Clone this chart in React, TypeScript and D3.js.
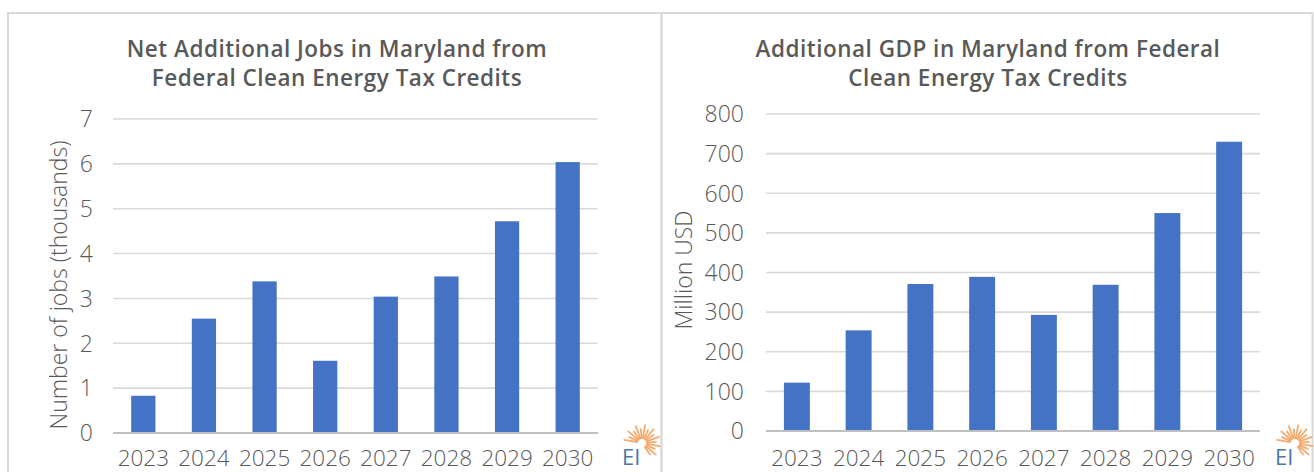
import React from 'react';
import * as d3 from 'd3';

const years = ['2023', '2024', '2025', '2026', '2027', '2028', '2029', '2030'];
const jobsValues = [0.83, 2.55, 3.38, 1.61, 3.04, 3.49, 4.72, 6.04];
const gdpValues = [122, 254, 371, 389, 293, 369, 550, 730];
const jobsTicks = [0, 1, 2, 3, 4, 5, 6, 7];
const gdpTicks = [0, 100, 200, 300, 400, 500, 600, 700, 800];

const FONT = "'Open Sans', 'Lato', sans-serif";
const TEXT = '#595959';
const GRID = '#d9d9d9';
const BAR = '#4472c4';

interface PanelProps {
  values: number[];
  ticks: number[];
  yMax: number;
  title: string[];
  titleX: number;
  yLabel: string;
  yLabelX: number;
  yLabelY: number;
  x0: number;
  x1: number;
  y0: number;
  y1: number;
  tickX: number;
  barPad: number;
}

function Logo({ x, y }: { x: number; y: number }) {
  // sunburst rays around the top right of "EI"
  const cx = x + 20, cy = y - 5;
  const rays = d3.range(-170, 60, 15);
  return (
    <g>
      {rays.map((a, i) => {
        const r = (a * Math.PI) / 180;
        const inner = 5;
        const outer = i % 2 === 0 ? 18 : 14;
        return (
          <line key={i}
            x1={cx + inner * Math.cos(r)} y1={cy + inner * Math.sin(r)}
            x2={cx + outer * Math.cos(r)} y2={cy + outer * Math.sin(r)}
            stroke="#f4a35f" strokeWidth={1.8} strokeLinecap="round" opacity={0.9} />
        );
      })}
      <text x={x} y={y + 17} fontFamily={FONT} fontSize={22} fill="#4a78a6">EI</text>
    </g>
  );
}

function Panel(p: PanelProps) {
  const x = d3.scaleBand<string>().domain(years).range([p.x0, p.x1]).paddingInner(p.barPad).paddingOuter(p.barPad / 2);
  const y = d3.scaleLinear().domain([0, p.yMax]).range([p.y0, p.y1]);
  return (
    <g>
      {p.title.map((t, i) => (
        <text key={i} x={p.titleX} y={57 + i * 29} textAnchor="middle" fontFamily={FONT}
          fontWeight={600} fontSize={22.5} letterSpacing={0.5} fill={TEXT}>{t}</text>
      ))}
      {p.ticks.map(t => (
        <g key={t}>
          <line x1={p.x0} x2={p.x1} y1={y(t)} y2={y(t)} stroke={t === 0 ? '#bfbfbf' : GRID} strokeWidth={t === 0 ? 2 : 1.6} />
          <text x={p.tickX} y={y(t)} dy="0.36em" textAnchor="end" fontFamily={FONT}
            fontWeight={300} fontSize={23} fill={TEXT}>{t}</text>
        </g>
      ))}
      {years.map((yr, i) => (
        <rect key={yr} x={x(yr)} width={x.bandwidth()} y={y(p.values[i])}
          height={y(0) - y(p.values[i]) - 1} fill={BAR} />
      ))}
      {years.map(yr => (
        <text key={yr} x={(x(yr) as number) + x.bandwidth() / 2} y={466} textAnchor="middle"
          fontFamily={FONT} fontWeight={300} fontSize={22.5} fill={TEXT}>{yr}</text>
      ))}
      <text transform={`translate(${p.yLabelX},${p.yLabelY}) rotate(-90)`} textAnchor="middle"
        fontFamily={FONT} fontWeight={300} fontSize={23} fill={TEXT}>{p.yLabel}</text>
    </g>
  );
}

export default function App() {
  return (
    <svg width={1314} height={472} style={{ position: 'absolute', left: 0, top: 0, background: '#fff' }}>
      <rect x={0} y={0} width={1314} height={472} fill="#fff" />
      <rect x={8} y={13} width={653.5} height={470} fill="none" stroke={GRID} strokeWidth={2} />
      <rect x={661.5} y={13} width={651} height={470} fill="none" stroke={GRID} strokeWidth={2} />
      <Panel values={jobsValues} ticks={jobsTicks} yMax={7}
        title={['Net Additional Jobs in Maryland from', 'Federal Clean Energy Tax Credits']}
        titleX={337} yLabel="Number of jobs (thousands)" yLabelX={67} yLabelY={285}
        x0={113} x1={598} y0={433} y1={119} tickX={93} barPad={0.6} />
      <Panel values={gdpValues} ticks={gdpTicks} yMax={800}
        title={['Additional GDP in Maryland from Federal', 'Clean Energy Tax Credits']}
        titleX={988} yLabel="Million  USD" yLabelX={692} yLabelY={270}
        x0={766} x1={1260} y0={431} y1={114} tickX={744} barPad={0.58} />
      <Logo x={622} y={448} />
      <Logo x={1275} y={448} />
    </svg>
  );
}
